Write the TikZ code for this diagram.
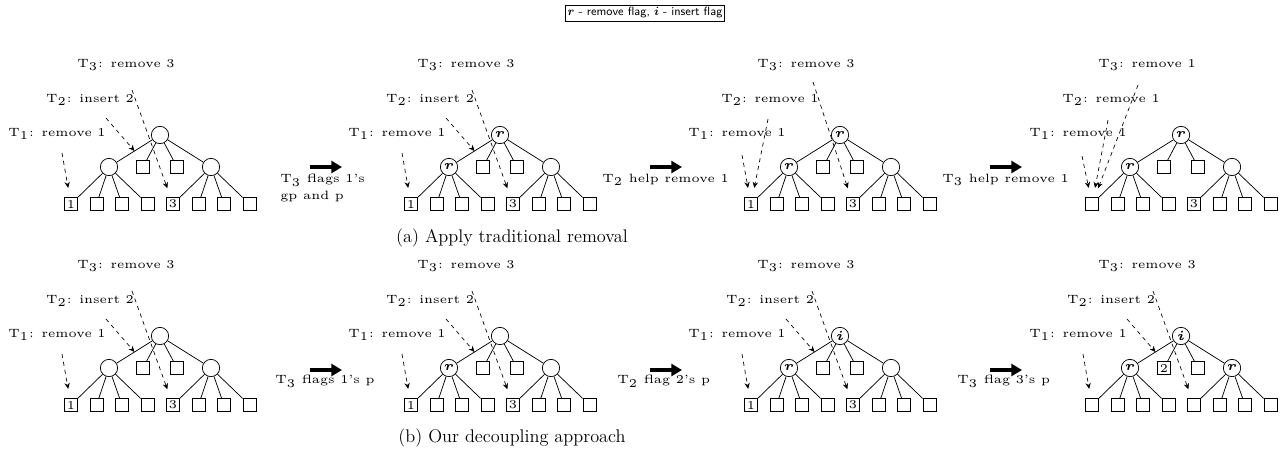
\documentclass[tikz,border=0pt]{standalone}
\usepackage{bm}
\usepackage{graphicx}
\usetikzlibrary{arrows.meta,calc}

\newcommand{\lblsc}{1.8}
\newcommand{\tl}[1]{\scalebox{\lblsc}{\tiny #1}}
\newcommand{\fl}[1]{\scalebox{2}{\tiny$\bm{#1}$}}
\newcommand{\capfont}{\fontfamily{ppl}\fontsize{13.7}{16}\selectfont}

\tikzset{
  inode/.style={circle,draw,line width=0.55pt,minimum size=13pt,inner sep=0pt},
  leaf/.style={rectangle,draw,line width=0.55pt,minimum size=9.75pt,inner sep=0pt},
  tedge/.style={line width=0.55pt},
  op/.style={dashed,line width=0.5pt,-{Stealth[length=4.5pt,width=4pt]},shorten >=7pt},
  opedge/.style={dashed,line width=0.5pt,-{Stealth[length=4.5pt,width=4pt]}},
  bigarrow/.style={line width=3pt,-{Triangle[length=8pt,width=9pt]}},
  txt/.style={inner sep=0pt},
}

% #1 prefix, #2 xshift, #3 yshift, #4 root, #5 lc, #6 rc, #7 m1, #8 leaf1, #9 leaf5
\newcommand{\mytree}[9]{%
\begin{scope}[shift={(#2,#3)}]
 \node[inode] (#1root) at (160,135) {#4};
 \node[inode] (#1lc) at (109,167) {#5};
 \node[inode] (#1rc) at (211,167) {#6};
 \node[leaf] (#1m1) at (143,167) {#7};
 \node[leaf] (#1m2) at (177,167) {};
 \node[leaf] (#1l1) at (71,204) {#8};
 \node[leaf] (#1l2) at (96.5,204) {};
 \node[leaf] (#1l3) at (122,204) {};
 \node[leaf] (#1l4) at (147.5,204) {};
 \node[leaf] (#1l5) at (173,204) {#9};
 \node[leaf] (#1l6) at (198.5,204) {};
 \node[leaf] (#1l7) at (224,204) {};
 \node[leaf] (#1l8) at (249.5,204) {};
 \draw[tedge] (#1root) -- (#1lc);
 \draw[tedge] (#1root) -- (#1m1);
 \draw[tedge] (#1root) -- (#1m2);
 \draw[tedge] (#1root) -- (#1rc);
 \draw[tedge] (#1lc) -- (#1l1);
 \draw[tedge] (#1lc) -- (#1l2);
 \draw[tedge] (#1lc) -- (#1l3);
 \draw[tedge] (#1lc) -- (#1l4);
 \draw[tedge] (#1rc) -- (#1l5);
 \draw[tedge] (#1rc) -- (#1l6);
 \draw[tedge] (#1rc) -- (#1l7);
 \draw[tedge] (#1rc) -- (#1l8);
 \coordinate (#1e) at ($(#1root)!0.5!(#1lc)$);
\end{scope}}

% standard operations: #1 prefix, #2 xshift, #3 yshift
\newcommand{\stdops}[3]{%
\begin{scope}[shift={(#2,#3)}]
 \node[txt] (#1T3) at (126,65) {\tl{T$_3$: remove 3}};
 \node[txt] (#1T2) at (90,100) {\tl{T$_2$: insert 2}};
 \node[txt] (#1T1) at (57,134) {\tl{T$_1$: remove 1}};
 \coordinate (#1s1) at (62,153);
 \coordinate (#1s2) at (106,118);
 \coordinate (#1s3) at (132,90);
\end{scope}
 \draw[op] (#1s1) -- (#1l1);
 \draw[opedge] (#1s2) -- (#1e);
 \draw[op] (#1s3) -- (#1l5);
}

\begin{document}
\begin{tikzpicture}[x=0.75pt,y=-0.75pt]
\useasboundingbox (0,0) rectangle (1288,458);

% legend
\node[draw,line width=0.5pt,inner xsep=1.5pt,inner ysep=2pt,font=\sffamily\fontsize{9}{11}\selectfont] (legend) at (645,13)
  {$\bm{r}$ - remove flag, $\bm{i}$ - insert flag};

% ---------- row (a) ----------
\mytree{aa}{0}{0}{}{}{}{}{\tl{1}}{\tl{3}}
\stdops{aa}{0}{0}
\mytree{ab}{340}{0}{\fl{r}}{\fl{r}}{}{}{\tl{1}}{\tl{3}}
\stdops{ab}{340}{0}
\mytree{ac}{680}{0}{\fl{r}}{\fl{r}}{}{}{\tl{1}}{\tl{3}}
\begin{scope}[shift={(680,0)}]
 \node[txt] (acT3) at (126,65) {\tl{T$_3$: remove 3}};
 \node[txt] (acT2) at (90,100) {\tl{T$_2$: remove 1}};
 \node[txt] (acT1) at (57,134) {\tl{T$_1$: remove 1}};
 \coordinate (acs1) at (62,155);
 \coordinate (acs2) at (88,119);
 \coordinate (acs3) at (133,82);
\end{scope}
\draw[op] (acs1) -- (acl1);
\draw[op] (acs2) -- (acl1);
\draw[op] (acs3) -- (acl5);
\mytree{ad}{1021}{0}{\fl{r}}{\fl{r}}{}{}{}{\tl{3}}
\begin{scope}[shift={(1021,0)}]
 \node[txt] (adT3) at (126,65) {\tl{T$_3$: remove 1}};
 \node[txt] (adT2) at (90,100) {\tl{T$_2$: remove 1}};
 \node[txt] (adT1) at (57,134) {\tl{T$_1$: remove 1}};
 \coordinate (ads1) at (61,156);
 \coordinate (ads2) at (87,120);
 \coordinate (ads3) at (117,85);
\end{scope}
\draw[op] (ads1) -- (adl1);
\draw[op] (ads2) -- (adl1);
\draw[op] (ads3) -- (adl1);

% transitions row (a)
\coordinate (ta1s) at (310,167); \coordinate (ta1e) at (342,167);
\coordinate (ta2s) at (650,167); \coordinate (ta2e) at (682,167);
\coordinate (ta3s) at (990,167); \coordinate (ta3e) at (1022,167);
\draw[bigarrow] (ta1s) -- (ta1e);
\draw[bigarrow] (ta2s) -- (ta2e);
\draw[bigarrow] (ta3s) -- (ta3e);
\node[txt,anchor=west] (ta1) at (280,188) {\scalebox{\lblsc}{\tiny\begin{tabular}{@{}l@{}}T$_3$ flags 1's\\[1pt]gp and p\end{tabular}}};
\node[txt,anchor=west] (ta2) at (602,180) {\tl{T$_2$ help remove 1}};
\node[txt,anchor=west] (ta3) at (942,180) {\tl{T$_3$ help remove 1}};

\node[txt] (capa) at (512,238) {\capfont (a) Apply traditional removal};

% ---------- row (b) ----------
\mytree{ba}{0}{201}{}{}{}{}{\tl{1}}{\tl{3}}
\stdops{ba}{0}{201}
\mytree{bb}{340}{201}{}{\fl{r}}{}{}{\tl{1}}{\tl{3}}
\stdops{bb}{340}{201}
\mytree{bc}{680}{201}{\fl{i}}{\fl{r}}{}{}{\tl{1}}{\tl{3}}
\stdops{bc}{680}{201}
\mytree{bd}{1021}{201}{\fl{i}}{\fl{r}}{\fl{r}}{\tl{2}}{}{}
\stdops{bd}{1021}{201}

% transitions row (b)
\coordinate (tb1s) at (310,370); \coordinate (tb1e) at (342,370);
\coordinate (tb2s) at (650,370); \coordinate (tb2e) at (682,370);
\coordinate (tb3s) at (990,370); \coordinate (tb3e) at (1022,370);
\draw[bigarrow] (tb1s) -- (tb1e);
\draw[bigarrow] (tb2s) -- (tb2e);
\draw[bigarrow] (tb3s) -- (tb3e);
\node[txt,anchor=west] (tb1) at (275,381) {\tl{T$_3$ flags 1's p}};
\node[txt,anchor=west] (tb2) at (617,381) {\tl{T$_2$ flag 2's p}};
\node[txt,anchor=west] (tb3) at (957,381) {\tl{T$_3$ flag 3's p}};

\node[txt] (capb) at (512,438) {\capfont (b) Our decoupling approach};
\end{tikzpicture}
\end{document}
